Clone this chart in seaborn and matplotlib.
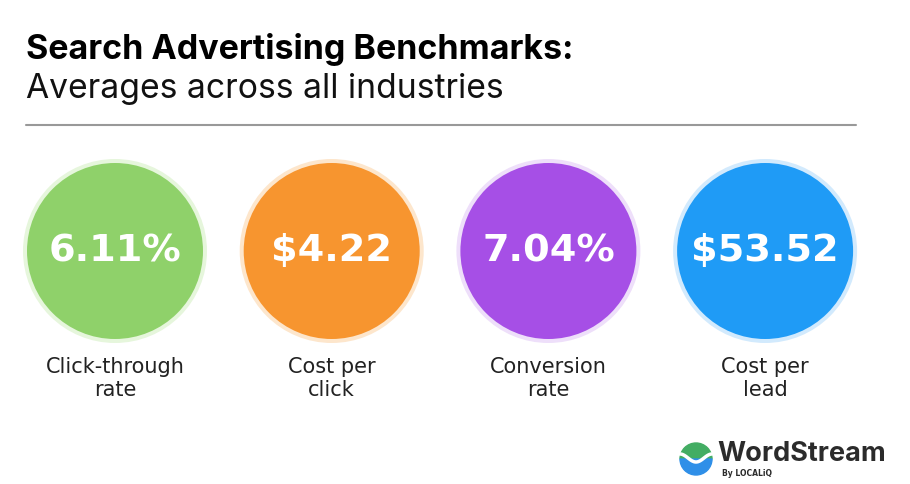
import matplotlib
matplotlib.use("Agg")
import matplotlib.pyplot as plt
import seaborn as sns
import pandas as pd
import numpy as np
from matplotlib.patches import Wedge

# data
metrics = ["Click-through\nrate", "Cost per\nclick", "Conversion\nrate", "Cost per\nlead"]
values = ["6.11%", "$4.22", "7.04%", "$53.52"]
colors = ["#8fd16a", "#f7952f", "#a64fe6", "#1f9bf6"]
halo_colors = ["#e6f6dc", "#fde6cc", "#eedffa", "#d2eafd"]

sns.set_theme(style="white")
plt.rcParams["font.family"] = ["DejaVu Sans"]

fig = plt.figure(figsize=(9.1, 4.84), dpi=100)
ax = fig.add_axes([0, 0, 1, 1])
ax.set_xlim(0, 910)
ax.set_ylim(484, 0)
ax.axis("off")

df = pd.DataFrame({"metric": metrics, "value": values})
df["x"] = 115 + 216.7 * df.index
df["y"] = 251

# halo ring then main disc (marker size in points^2; 1 px = 0.72 pt at dpi 100)
sns.scatterplot(data=df, x="x", y="y", hue="metric", palette=halo_colors,
                s=(2 * 92 * 0.72) ** 2, linewidth=0, legend=False, ax=ax)
sns.scatterplot(data=df, x="x", y="y", hue="metric", palette=colors,
                s=(2 * 88 * 0.72) ** 2, linewidth=0, legend=False, ax=ax)

for _, r in df.iterrows():
    ax.text(r["x"], r["y"], r["value"], ha="center", va="center",
            color="white", fontsize=27.5, fontweight="bold")
    ax.text(r["x"], 357, r["metric"], ha="center", va="top",
            color="#222222", fontsize=15, linespacing=1.2)

# titles
ax.text(26, 49, "Search Advertising Benchmarks:", ha="left", va="center",
        fontsize=24.5, fontweight="bold", color="#000000", family=["Inter", "DejaVu Sans"])
ax.text(26, 89, "Averages across all industries", ha="left", va="center",
        fontsize=24.2, color="#111111", family=["Inter", "DejaVu Sans"])
ax.plot([26, 856], [125, 125], color="#999999", lw=1.5)

# logo
cx, cy, rad = 696, 459, 16
ax.add_patch(Wedge((cx, cy), rad, 180, 360, color="#43ad63"))
ax.add_patch(Wedge((cx, cy), rad, 0, 180, color="#2f8fe8"))
wx = np.linspace(cx - rad, cx + rad, 50)
ax.plot(wx, cy - 1 + 4 * np.cos((wx - cx) / rad * np.pi), color="white", lw=2.5)
ax.text(717, 454, "WordStream", ha="left", va="center", fontsize=19.5,
        fontweight="bold", color="#2b2b2b", family=["Inter", "DejaVu Sans"])
ax.text(722, 473, "By LOCALiQ", ha="left", va="center", fontsize=5.5,
        fontweight="bold", color="#2b2b2b")

fig.savefig("out.png", dpi=100, facecolor="white")
